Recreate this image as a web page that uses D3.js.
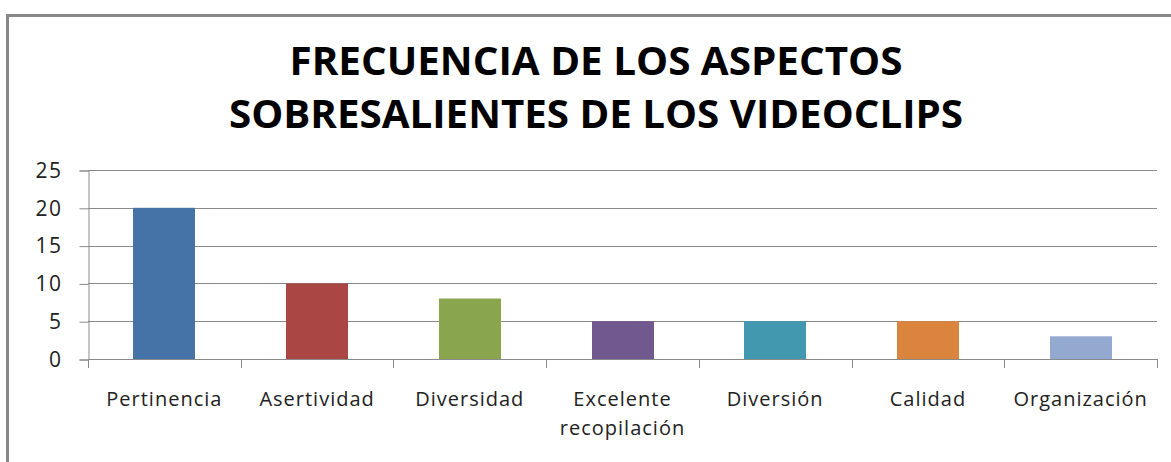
<!DOCTYPE html>
<html>
<head>
<meta charset="utf-8">
<script src="https://cdn.jsdelivr.net/npm/d3@7"></script>
<style>
  body { margin: 0; background: #fff; }
  text { font-family: "Open Sans", "DejaVu Sans", sans-serif; }
</style>
</head>
<body>
<svg id="chart" width="1171" height="462"></svg>
<script>
// data
var categories = ["Pertinencia", "Asertividad", "Diversidad", "Excelente recopilación", "Diversión", "Calidad", "Organización"];
var values = [20, 10, 8, 5, 5, 5, 3];
var colors = ["#4572A7", "#AA4643", "#89A54E", "#71588F", "#4198AF", "#DB843D", "#93A9CF"];
var yTicks = [0, 5, 10, 15, 20, 25];
var titleLines = ["FRECUENCIA DE LOS ASPECTOS", "SOBRESALIENTES DE LOS VIDEOCLIPS"];

var svg = d3.select("#chart");

// frame (only top and left edges are visible in the crop)
svg.append("path")
  .attr("d", "M7.5,462 V15.5 H1171")
  .attr("fill", "none")
  .attr("stroke", "#888")
  .attr("stroke-width", 3);

// title
var titleY = [75, 128];
var titleW = [613, 734];
svg.selectAll(".title")
  .data(titleLines)
  .enter().append("text")
  .attr("class", "title")
  .attr("x", 596)
  .attr("y", (d, i) => titleY[i])
  .attr("text-anchor", "middle")
  .attr("textLength", (d, i) => titleW[i])
  .attr("lengthAdjust", "spacingAndGlyphs")
  .style("font-size", "39px")
  .style("font-weight", "bold")
  .style("fill", "#000")
  .text(d => d);

var pLeft = 88, pRight = 1157, pTop = 170, pBottom = 359;

var x = d3.scaleBand().domain(categories).range([pLeft, pRight]).paddingInner(0).paddingOuter(0);
var y = d3.scaleLinear().domain([0, 25]).range([pBottom, pTop]);

// gridlines
svg.append("g")
  .selectAll("line")
  .data(yTicks.filter(d => d > 0))
  .enter().append("line")
  .attr("x1", pLeft).attr("x2", pRight)
  .attr("y1", d => Math.round(y(d)) + 0.5).attr("y2", d => Math.round(y(d)) + 0.5)
  .attr("stroke", "#8a8a8a")
  .attr("stroke-width", 1);

// y axis
var yAxis = svg.append("g")
  .attr("transform", "translate(" + (pLeft + 0.5) + ",0.5)")
  .call(d3.axisLeft(y).tickValues(yTicks).tickSize(9).tickPadding(17));
yAxis.select(".domain").attr("stroke", "#8a8a8a");
yAxis.selectAll(".tick line").attr("stroke", "#8a8a8a");
yAxis.selectAll(".tick text")
  .style("font-size", "21px")
  .style("letter-spacing", "1.5px")
  .style("fill", "#222")
  .style("font-family", "'Open Sans', sans-serif");

// bars
var barW = 62;
svg.append("g")
  .selectAll("rect")
  .data(values)
  .enter().append("rect")
  .attr("x", (d, i) => Math.round(x(categories[i]) + x.bandwidth() / 2 - barW / 2))
  .attr("y", d => y(d))
  .attr("width", barW)
  .attr("height", d => y(0) - y(d))
  .attr("fill", (d, i) => colors[i]);

// x axis
svg.append("line")
  .attr("x1", pLeft).attr("x2", pRight)
  .attr("y1", pBottom + 0.5).attr("y2", pBottom + 0.5)
  .attr("stroke", "#8a8a8a");
var bounds = categories.map(c => x(c)).concat([pRight]);
svg.append("g")
  .selectAll("line")
  .data(bounds)
  .enter().append("line")
  .attr("x1", d => Math.round(d) + 0.5).attr("x2", d => Math.round(d) + 0.5)
  .attr("y1", pBottom).attr("y2", pBottom + 9)
  .attr("stroke", "#8a8a8a");

// category labels (wrapped like the original)
var labelLines = [["Pertinencia"], ["Asertividad"], ["Diversidad"], ["Excelente", "recopilación"], ["Diversión"], ["Calidad"], ["Organización"]];
var lab = svg.append("g")
  .selectAll("text")
  .data(categories)
  .enter().append("text")
  .attr("x", d => x(d) + x.bandwidth() / 2)
  .attr("y", 406)
  .attr("text-anchor", "middle")
  .style("font-size", "20px")
  .style("letter-spacing", "1px")
  .style("fill", "#222");
lab.each(function(d, i) {
  d3.select(this).selectAll("tspan")
    .data(labelLines[i])
    .enter().append("tspan")
    .attr("x", x(d) + x.bandwidth() / 2)
    .attr("dy", (t, j) => j === 0 ? 0 : 29)
    .text(t => t);
});
</script>
</body>
</html>
